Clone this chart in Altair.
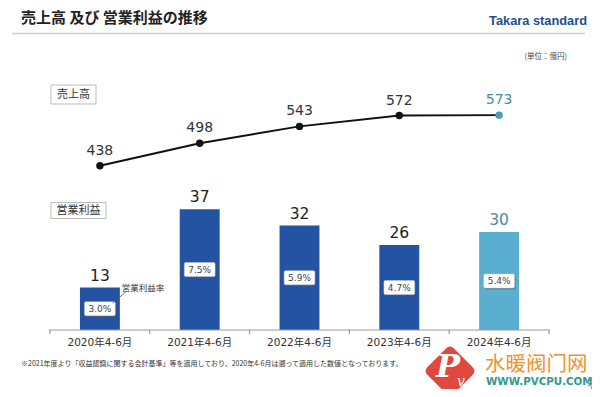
import altair as alt
import pandas as pd

periods = ["2020年4-6月", "2021年4-6月", "2022年4-6月", "2023年4-6月", "2024年4-6月"]
sales = [438, 498, 543, 572, 573]
op_profit = [13, 37, 32, 26, 30]
op_margin = ["3.0%", "7.5%", "5.9%", "4.7%", "5.4%"]
latest = [False, False, False, False, True]

df = pd.DataFrame({"period": periods, "sales": sales, "profit": op_profit,
                   "margin": op_margin, "latest": latest})
df["mid"] = df["profit"] / 2

DARK = "#2453a4"
LIGHT = "#5aaed0"
TEAL = "#3f8fae"
TXT = "#333333"
NUMFONT = "DejaVu Sans, Noto Sans CJK JP"
JP = "Noto Sans CJK JP"

xscale = alt.Scale(domain=periods, paddingInner=0.6, paddingOuter=0.3)
xenc = alt.X("period:N", sort=periods, scale=xscale, axis=None)
ybar = alt.Y("profit:Q", scale=alt.Scale(domain=[0, 82.7]), axis=None)
ymid = alt.Y("mid:Q", scale=alt.Scale(domain=[0, 82.7]), axis=None)
yline = alt.Y("sales:Q", scale=alt.Scale(domain=[0, 720]), axis=None)

base = alt.Chart(df).encode(x=xenc)

one = alt.Data(values=[{"k": 1}])


def txt(s, x, y, **kw):
    return alt.Chart(one).mark_text(text=s, **kw).encode(x=alt.value(x), y=alt.value(y))


def rule(x1, y1, x2, y2, **kw):
    return alt.Chart(one).mark_rule(**kw).encode(
        x=alt.value(x1), y=alt.value(y1), x2=alt.value(x2), y2=alt.value(y2))


def rect(x1, y1, x2, y2, **kw):
    return alt.Chart(one).mark_rect(**kw).encode(
        x=alt.value(x1), y=alt.value(y1), x2=alt.value(x2), y2=alt.value(y2))


# category axis drawn by hand: baseline, boundary ticks, labels
axis_line = rule(-1, 270, 500, 270, color="#999", strokeWidth=1.2)
ticks_l = alt.Chart(df).mark_rule(color="#999", strokeWidth=1.2, xOffset=-30).encode(
    x=alt.X("period:N", sort=periods, scale=xscale, axis=None, bandPosition=0),
    y=alt.value(270), y2=alt.value(274))
ticks_r = alt.Chart(df).transform_filter(alt.datum.latest).mark_rule(
    color="#999", strokeWidth=1.2, xOffset=30).encode(
    x=alt.X("period:N", sort=periods, scale=xscale, axis=None, bandPosition=1),
    y=alt.value(270), y2=alt.value(274))
xlabels = base.mark_text(fontSize=10.5, font=NUMFONT, color=TXT, baseline="middle").encode(
    y=alt.value(283), text="period:N")

bars = base.mark_bar().encode(
    y=ybar,
    color=alt.condition(alt.datum.latest, alt.value(LIGHT), alt.value(DARK)))
bar_lbl = base.mark_text(dy=-12, fontSize=15.5, font=NUMFONT, baseline="middle").encode(
    y=ybar, text="profit:Q",
    color=alt.condition(alt.datum.latest, alt.value(TEAL), alt.value("#222")))

box = "M-1,-0.5 L1,-0.5 Q1.1,-0.5 1.1,-0.4 L1.1,0.4 Q1.1,0.5 1,0.5 L-1,0.5 Q-1.1,0.5 -1.1,0.4 L-1.1,-0.4 Q-1.1,-0.5 -1,-0.5 Z"
shadow = base.mark_point(shape=box, size=780, filled=True, fill="#555", opacity=0.45,
                         xOffset=1.2, yOffset=1.5).encode(y=ymid)
wbox = base.mark_point(shape=box, size=780, filled=True, fill="white", stroke="#cccccc",
                       strokeWidth=0.5, opacity=1).encode(y=ymid)
pct = base.mark_text(fontSize=9, font=NUMFONT, color="#444", baseline="middle").encode(
    y=ymid, text="margin:N")

line = base.mark_line(color="#111", strokeWidth=2).encode(y=yline)
pts = base.mark_circle(size=55, opacity=1).encode(
    y=yline, color=alt.condition(alt.datum.latest, alt.value("#4a9ab8"), alt.value("#111")))
line_lbl = base.mark_text(dy=-15, fontSize=14, font=NUMFONT, baseline="middle").encode(
    y=yline, text="sales:Q",
    color=alt.condition(alt.datum.latest, alt.value(TEAL), alt.value(TXT)))

title = txt("売上高 及び 営業利益の推移", -29, -42, fontSize=15, fontWeight="bold",
            font=JP, color="#222", align="left", baseline="middle")
sep = rule(-38, -26.5, 535, -26.5, color="#cccccc", strokeWidth=1.5)
logo = txt("Takara standard", 537, -39, fontSize=12.8, fontWeight="bold",
           font="Liberation Sans", color="#1d4f94", align="right", baseline="middle")
unit = txt("(単位：億円)", 517, -3, fontSize=7.5, font=JP, color="#444",
           align="right", baseline="middle")

box1 = rect(1, 25, 46, 44, fill="white", stroke="#aaaaaa", strokeWidth=0.8)
box1t = txt("売上高", 23.5, 34.5, fontSize=11, font=JP, color=TXT, baseline="middle")
box2 = rect(1, 142.5, 56, 158.5, fill="white", stroke="#aaaaaa", strokeWidth=0.8)
box2t = txt("営業利益", 28.5, 150.5, fontSize=11, font=JP, color=TXT, baseline="middle")

ann = txt("営業利益率", 71.7, 227.7, fontSize=8.5, font=JP, color=TXT,
          align="left", baseline="middle")
ann_line = rule(62.7, 243.3, 76.7, 231, color="#555", strokeWidth=0.8)

foot = txt("※2021年度より「収益認識に関する会計基準」等を適用しており、2020年4-6月は遡って適用した数値となっております。",
           -29, 304, fontSize=7, font=JP, color=TXT, align="left", baseline="middle")

diamond = "M-0.15,-0.85 Q0,-1 0.15,-0.85 L0.85,-0.15 Q1,0 0.85,0.15 L0.15,0.85 Q0,1 -0.15,0.85 L-0.85,0.15 Q-1,0 -0.85,-0.15 Z"
wm_shape = alt.Chart(one).mark_point(shape=diamond, size=2800, filled=True, fill="#e0483e",
                                     opacity=1).encode(x=alt.value(400), y=alt.value(311))
wm_p = txt("P", 398, 307, fontSize=32, fontStyle="italic", fontWeight="bold",
           font="DejaVu Serif", color="white", baseline="middle")
wm_v = txt("v", 411, 322, fontSize=14, fontStyle="italic", font="DejaVu Serif",
           color="white", baseline="middle")
wm_cn = txt("水暖阀门网", 435, 304.5, fontSize=20.5, font="Noto Sans CJK SC", color="#f0922e",
            align="left", baseline="middle")
wm_url = txt("WWW.PVCPU.COM", 436, 321.5, fontSize=10.3, fontWeight="bold",
             font="DejaVu Sans", color="#2f9a8f", align="left", baseline="middle")
page = txt("5", 540, 328, fontSize=8, font="DejaVu Sans", color="#2f7fb0", baseline="middle")

chart = alt.layer(
    sep, title, logo, unit, box1, box1t, box2, box2t,
    bars, axis_line, ticks_l, ticks_r, xlabels, bar_lbl, shadow, wbox, pct, ann_line, ann,
    line, pts, line_lbl, foot, wm_shape, wm_p, wm_v, wm_cn, wm_url, page
).resolve_scale(y="independent").properties(
    width=499, height=270,
    autosize=alt.AutoSizeParams(type="none"),
    padding={"left": 42, "top": 52, "right": 43, "bottom": 59},
).configure(background="white",
            view=alt.ViewConfig(stroke="transparent", strokeWidth=0))

chart.save("out.html", embed_options={"renderer": "svg", "actions": False})
